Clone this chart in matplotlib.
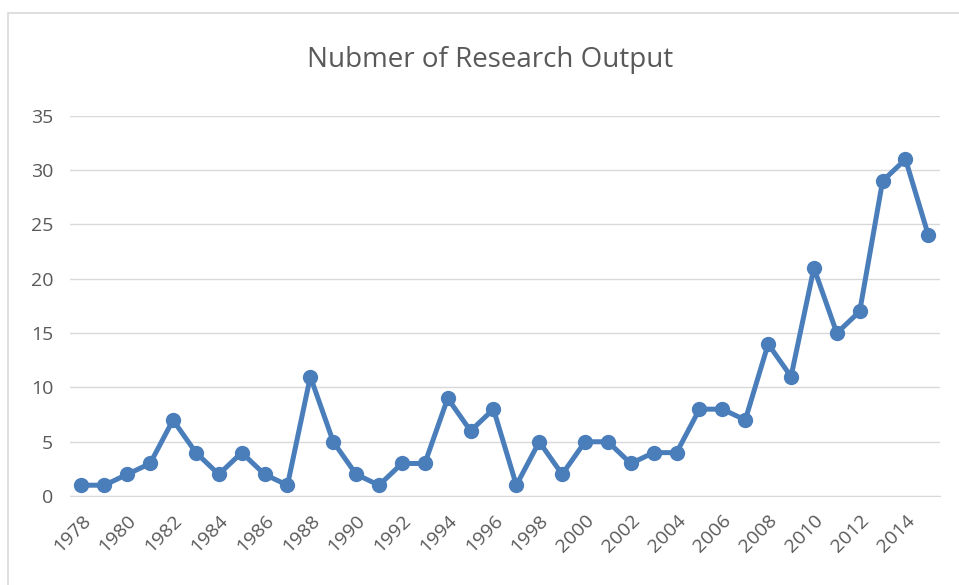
import matplotlib
matplotlib.use("Agg")
import matplotlib.pyplot as plt
from matplotlib.patches import Rectangle

# data
years = list(range(1978, 2016))
output = [1, 1, 2, 3, 7, 4, 2, 4, 2, 1, 11, 5, 2, 1, 3, 3, 9, 6, 8, 1,
          5, 2, 5, 5, 3, 4, 4, 8, 8, 7, 14, 11, 21, 15, 17, 29, 31, 24]
y_ticks = [0, 5, 10, 15, 20, 25, 30, 35]

plt.rcParams['font.family'] = ['Open Sans', 'DejaVu Sans']
grey = '#595959'
blue = '#4a7ebb'

fig = plt.figure(figsize=(9.59, 5.85), dpi=100)
ax = fig.add_axes([0.073, 0.152, 0.907, 0.650])

x = list(range(len(years)))
ax.plot(x, output, color=blue, lw=3.6, marker='o', ms=10, zorder=3)

ax.set_xlim(-0.5, len(years) - 0.5)
ax.set_ylim(0, 35)
ax.set_yticks(y_ticks)
ax.set_yticklabels([str(v) for v in y_ticks], color=grey, fontsize=14)
ax.set_xticks(x[::2])
ax.set_xticklabels([str(y) for y in years[::2]], rotation=45, ha='right',
                   rotation_mode='anchor', color=grey, fontsize=14)
ax.tick_params(length=0, pad=12)
ax.tick_params(axis='x', pad=11)
ax.grid(axis='y', color='#d9d9d9', lw=1)
ax.set_axisbelow(True)
for s in ['top', 'right', 'left']:
    ax.spines[s].set_visible(False)
ax.spines['bottom'].set_color('#d9d9d9')

fig.text(0.511, 0.898, "Nubmer of Research Output", ha='center', va='center',
         fontsize=20, color=grey)

# chart frame (only top and left edges visible in the crop)
fig.add_artist(Rectangle((8 / 959, -0.1), 1.2, 1.1 - 13 / 585,
                         transform=fig.transFigure, fill=False,
                         ec='#d9d9d9', lw=1.2))

fig.savefig("out.png", dpi=100, facecolor='white')
